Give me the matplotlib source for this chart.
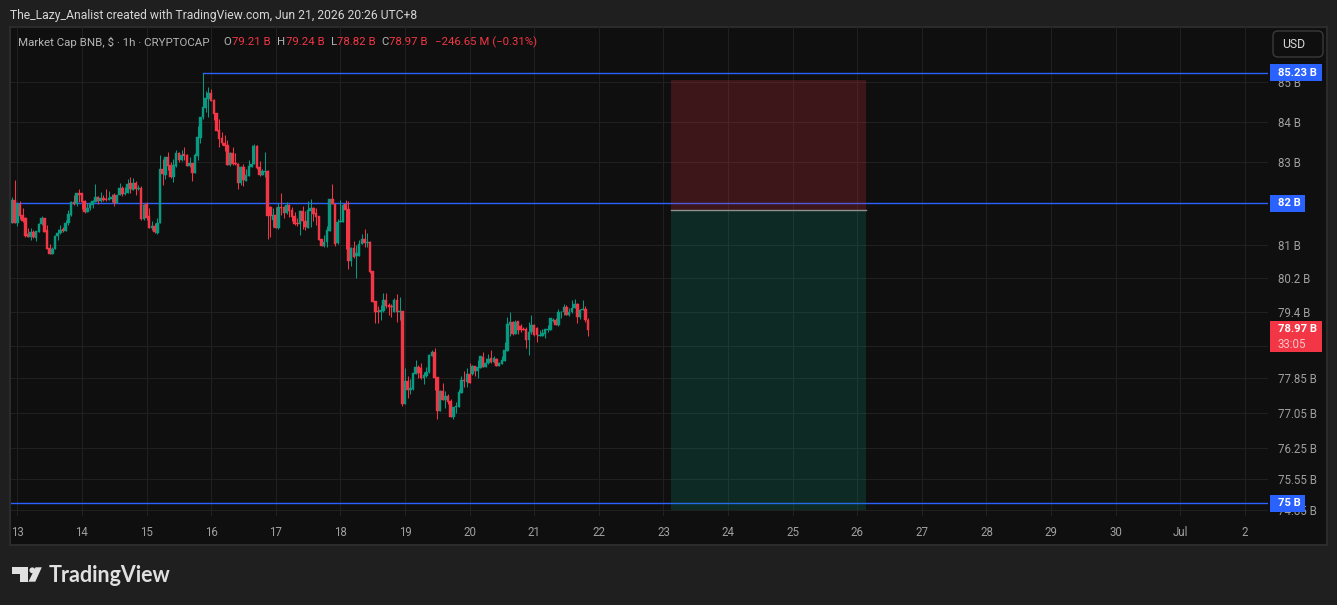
# plot.py
# hourly candles for BNB market cap with levels and a short position box

import matplotlib
matplotlib.use("Agg")
import matplotlib.pyplot as plt
import numpy as np
from matplotlib.patches import Circle, FancyBboxPatch, Polygon, Rectangle
from matplotlib.ticker import NullLocator

plt.rcParams["font.family"] = ["Roboto", "DejaVu Sans"]

# candle values, in billions of USD, one per hour
first_hour = -3  # hours from Jun 13 00:00
opens = [
    81.51, 81.51, 82.08, 81.51, 81.97, 81.71, 81.65, 81.25, 81.19, 81.30,
    81.16, 81.30, 81.49, 81.65, 81.35, 80.91, 80.77, 80.89, 81.20, 81.27,
    81.38, 81.32, 81.51, 81.71, 82.03, 81.98, 82.25, 82.24, 82.05, 81.78,
    81.89, 81.96, 82.04, 82.15, 82.05, 82.12, 82.10, 82.09, 82.11, 82.20,
    82.00, 82.21, 82.37, 82.23, 82.26, 82.49, 82.32, 82.49, 82.34, 82.37,
    81.61, 81.98, 81.69, 81.41, 81.45, 81.27, 81.51, 82.84, 82.69, 83.14,
    82.93, 82.64, 82.92, 83.24, 83.06, 83.20, 83.18, 82.91, 82.98, 82.75,
    83.17, 83.61, 84.12, 84.36, 84.58, 84.73, 84.55, 84.22, 83.81, 83.60,
    83.48, 83.43, 82.94, 83.24, 82.98, 82.96, 82.50, 82.89, 82.55, 82.67,
    82.90, 82.97, 83.41, 82.88, 82.69, 82.77, 82.79, 81.92, 81.59, 81.71,
    81.41, 81.91, 81.90, 81.77, 81.96, 81.84, 81.69, 81.51, 81.49, 81.81,
    81.57, 81.41, 81.82, 81.88, 81.77, 81.69, 81.13, 80.97, 81.05, 81.33,
    82.10, 81.99, 81.03, 81.54, 81.55, 81.97, 81.86, 80.61, 80.92, 80.72,
    80.73, 81.01, 81.13, 81.03, 81.06, 80.37, 79.65, 79.41, 79.40, 79.42,
    79.67, 79.55, 79.54, 79.39, 79.67, 79.40, 79.41, 77.26, 77.78, 77.57,
    77.59, 77.95, 78.11, 78.08, 77.85, 77.90, 77.99, 78.37, 78.45, 77.87,
    77.08, 77.55, 77.35, 77.43, 77.32, 76.96, 77.17, 77.19, 77.51, 77.80,
    77.75, 77.94, 77.94, 78.13, 78.00, 78.09, 78.33, 78.10, 78.19, 78.32,
    78.22, 78.30, 78.13, 78.18, 78.25, 78.48, 79.08, 79.15, 78.87, 79.17,
    79.06, 78.98, 78.98, 78.73, 78.91, 79.08, 79.02, 78.83, 78.83, 78.88,
    78.96, 78.96, 79.18, 79.20, 79.08, 79.38, 79.38, 79.51, 79.31, 79.39,
    79.48, 79.58, 79.27, 79.44, 79.46, 79.21,
]
highs = [
    81.67, 82.15, 82.57, 82.02, 82.06, 81.89, 81.67, 81.41, 81.39, 81.35,
    81.32, 81.53, 81.69, 81.65, 81.47, 81.01, 80.94, 81.23, 81.38, 81.47,
    81.43, 81.59, 81.84, 82.06, 82.20, 82.25, 82.34, 82.24, 82.08, 82.00,
    82.04, 82.09, 82.47, 82.18, 82.27, 82.20, 82.34, 82.30, 82.22, 82.24,
    82.21, 82.49, 82.42, 82.40, 82.59, 82.63, 82.62, 82.54, 82.44, 82.43,
    81.98, 82.04, 81.89, 81.56, 81.51, 81.63, 83.19, 83.09, 83.14, 83.27,
    83.01, 83.09, 83.31, 83.25, 83.31, 83.38, 83.21, 83.14, 82.98, 83.23,
    83.91, 84.13, 85.23, 84.78, 84.87, 84.83, 84.57, 84.22, 84.08, 83.76,
    83.68, 83.56, 83.26, 83.39, 83.24, 82.98, 82.91, 82.96, 82.85, 83.06,
    83.44, 83.46, 83.42, 83.04, 82.83, 83.27, 82.81, 81.94, 81.89, 81.90,
    82.00, 82.25, 81.94, 82.03, 81.98, 81.92, 81.78, 81.63, 81.84, 81.93,
    81.82, 82.06, 82.10, 81.90, 81.88, 81.69, 81.13, 81.24, 81.45, 82.10,
    82.47, 81.99, 81.61, 82.08, 81.99, 82.09, 82.05, 80.94, 81.09, 80.99,
    81.11, 81.25, 81.37, 81.28, 81.08, 80.37, 79.65, 79.53, 79.55, 79.83,
    79.83, 79.61, 79.59, 79.72, 79.81, 79.74, 79.41, 78.08, 77.89, 77.82,
    77.96, 78.27, 78.15, 78.19, 77.99, 78.10, 78.40, 78.50, 78.54, 77.88,
    77.57, 77.73, 77.55, 77.48, 77.37, 77.19, 77.30, 77.60, 77.89, 78.01,
    78.07, 78.19, 78.15, 78.13, 78.27, 78.36, 78.46, 78.31, 78.41, 78.50,
    78.36, 78.32, 78.23, 78.35, 78.69, 79.27, 79.39, 79.18, 79.20, 79.17,
    79.12, 79.04, 79.03, 79.16, 79.31, 79.10, 79.04, 78.96, 79.00, 78.99,
    79.08, 79.26, 79.26, 79.26, 79.46, 79.42, 79.58, 79.56, 79.48, 79.67,
    79.70, 79.61, 79.46, 79.67, 79.54, 79.24,
]
lows = [
    81.51, 81.51, 81.51, 81.45, 81.61, 81.55, 81.19, 81.19, 81.11, 81.15,
    81.09, 81.30, 81.47, 81.30, 80.89, 80.77, 80.77, 80.89, 81.11, 81.25,
    81.29, 81.32, 81.48, 81.70, 81.96, 81.93, 82.04, 81.86, 81.76, 81.78,
    81.84, 81.89, 82.04, 81.99, 82.04, 82.06, 82.05, 82.08, 82.04, 81.93,
    82.00, 82.21, 82.18, 82.21, 82.24, 82.26, 82.32, 82.20, 82.32, 81.59,
    81.60, 81.60, 81.39, 81.35, 81.27, 81.25, 81.51, 82.45, 82.59, 82.81,
    82.62, 82.53, 82.90, 83.02, 83.04, 83.06, 82.91, 82.90, 82.55, 82.75,
    83.06, 83.49, 84.07, 84.26, 84.12, 84.52, 84.06, 83.78, 83.39, 83.44,
    83.29, 82.94, 82.91, 82.94, 82.93, 82.35, 82.45, 82.42, 82.55, 82.67,
    82.90, 82.97, 82.85, 82.67, 82.69, 82.65, 81.13, 81.17, 81.43, 81.41,
    81.37, 81.71, 81.65, 81.75, 81.67, 81.57, 81.47, 81.45, 81.24, 81.37,
    81.35, 81.41, 81.43, 81.57, 81.48, 81.10, 80.97, 80.95, 80.95, 81.33,
    81.98, 80.97, 81.01, 81.54, 81.54, 80.89, 80.41, 80.49, 80.67, 80.20,
    80.73, 81.01, 80.95, 80.95, 80.32, 79.62, 79.14, 79.14, 79.20, 79.40,
    79.48, 79.32, 79.28, 79.39, 79.16, 79.20, 77.21, 77.26, 77.38, 77.49,
    77.57, 77.94, 77.86, 77.82, 77.71, 77.88, 77.97, 78.37, 77.57, 76.90,
    77.08, 77.35, 77.15, 77.26, 76.95, 76.91, 77.04, 77.19, 77.51, 77.63,
    77.65, 77.74, 77.91, 77.89, 77.85, 78.09, 78.10, 78.10, 78.17, 78.20,
    78.20, 78.13, 78.13, 78.18, 78.25, 78.48, 78.82, 78.85, 78.87, 78.88,
    78.92, 78.96, 78.54, 78.39, 78.88, 78.82, 78.69, 78.83, 78.82, 78.78,
    78.92, 78.96, 79.16, 79.08, 79.07, 79.26, 79.31, 79.31, 79.29, 79.37,
    79.48, 79.14, 79.22, 79.44, 79.15, 78.82,
]
closes = [
    81.67, 82.08, 81.51, 81.98, 81.70, 81.58, 81.21, 81.19, 81.30, 81.17,
    81.32, 81.49, 81.65, 81.31, 80.90, 80.77, 80.89, 81.21, 81.28, 81.35,
    81.33, 81.51, 81.74, 82.03, 81.98, 82.25, 82.21, 82.03, 81.79, 81.89,
    81.99, 82.05, 82.15, 82.05, 82.13, 82.09, 82.08, 82.13, 82.14, 82.00,
    82.21, 82.36, 82.22, 82.26, 82.46, 82.34, 82.50, 82.34, 82.37, 81.61,
    81.96, 81.63, 81.41, 81.45, 81.29, 81.51, 82.84, 82.71, 83.14, 82.92,
    82.64, 82.93, 83.24, 83.06, 83.19, 83.17, 82.92, 82.99, 82.75, 83.18,
    83.62, 84.13, 84.38, 84.60, 84.72, 84.53, 84.20, 83.79, 83.59, 83.47,
    83.41, 82.94, 83.24, 82.95, 82.95, 82.50, 82.90, 82.57, 82.68, 82.91,
    82.97, 83.41, 82.86, 82.69, 82.79, 82.80, 81.70, 81.70, 81.71, 81.41,
    81.92, 81.88, 81.77, 81.96, 81.82, 81.66, 81.49, 81.49, 81.81, 81.56,
    81.43, 81.84, 81.88, 81.75, 81.67, 81.11, 80.97, 81.06, 81.35, 82.10,
    81.98, 81.01, 81.54, 81.56, 81.96, 81.84, 80.61, 80.92, 80.69, 80.80,
    81.01, 81.13, 81.03, 81.07, 80.33, 79.63, 79.40, 79.40, 79.44, 79.67,
    79.53, 79.51, 79.50, 79.67, 79.39, 79.41, 77.26, 77.78, 77.57, 77.61,
    77.96, 78.11, 77.96, 77.85, 77.91, 77.99, 78.39, 78.45, 77.85, 77.08,
    77.54, 77.35, 77.43, 77.29, 76.96, 77.19, 77.20, 77.53, 77.80, 77.78,
    77.94, 77.74, 78.13, 78.00, 78.10, 78.35, 78.11, 78.20, 78.30, 78.22,
    78.32, 78.13, 78.19, 78.27, 78.50, 79.10, 79.15, 78.87, 79.16, 78.96,
    78.96, 78.96, 78.73, 78.92, 79.08, 78.84, 78.84, 78.85, 78.90, 78.98,
    78.98, 79.25, 79.20, 79.08, 79.38, 79.39, 79.51, 79.31, 79.40, 79.49,
    79.58, 79.28, 79.45, 79.47, 79.20, 78.97,
]

# axis ticks
price_ticks = [85, 84, 83, 82, 81, 80.2, 79.4, 78.6, 77.85, 77.05, 76.25, 75.55, 74.85]
price_labels = ["85 B", "84 B", "83 B", "82 B", "81 B", "80.2 B", "79.4 B", "78.6 B",
                "77.85 B", "77.05 B", "76.25 B", "75.55 B", "74.85 B"]
day_labels = ["13", "14", "15", "16", "17", "18", "19", "20", "21", "22", "23", "24",
              "25", "26", "27", "28", "29", "30", "Jul", "2"]

# horizontal levels and the short position box
level_top = 85.23
level_mid = 82
level_low = 75
pos_stop = 85.06
pos_entry = 81.83
pos_target = 74.85
pos_start = 243
pos_end = 315.3

UP = "#089981"
DOWN = "#f23645"
BLUE = "#2962ff"
GRID = "#202020"
PANE = "#0f0f0f"
OUTER = "#1f1f1f"
TICK = "#a0a0a0"

W, H = 1337, 605
fig = plt.figure(figsize=(W / 100, H / 100), dpi=100, facecolor=OUTER)


def pixel_axes(z):
    a = fig.add_axes([0, 0, 1, 1], zorder=z)
    a.set_xlim(0, W)
    a.set_ylim(H, 0)
    a.axis("off")
    return a


back = pixel_axes(0)
top = pixel_axes(5)

# chart frame
back.add_patch(Rectangle((9.5, 26.5), 1317, 518, fc=PANE, ec="#2b2b2b", lw=1.5))

# price pane
left, right, upper, lower = 10.5, 1268, 27, 516
ax = fig.add_axes([left / W, (H - lower) / H, (right - left) / W, (lower - upper) / H], zorder=2)
ax.patch.set_alpha(0)
for s in ax.spines.values():
    s.set_visible(False)

ax.set_yscale("log")
ax.set_ylim(74.72, 86.41)
ax.set_xlim(-2.53, 464.6)
ax.yaxis.set_minor_locator(NullLocator())
ax.yaxis.tick_right()
ax.set_yticks(price_ticks)
ax.set_yticklabels(price_labels)
ax.set_xticks(np.arange(len(day_labels)) * 24)
ax.set_xticklabels(day_labels)
ax.tick_params(axis="both", length=0, labelcolor=TICK, labelsize=8.3)
ax.tick_params(axis="y", pad=7.5)
ax.tick_params(axis="x", pad=7)
ax.grid(True, color=GRID, lw=0.75)
ax.set_axisbelow(True)

hours = np.arange(len(opens)) + first_hour
o = np.array(opens)
c = np.array(closes)
colors = [UP if b >= a else DOWN for a, b in zip(opens, closes)]

# levels run under the position box
x_end = ax.get_xlim()[1]
ax.plot([hours[np.argmax(highs)], x_end], [level_top, level_top], color=BLUE, lw=1, zorder=2)
ax.plot([ax.get_xlim()[0], x_end], [level_mid, level_mid], color=BLUE, lw=1, zorder=2)
ax.plot([ax.get_xlim()[0], x_end], [level_low, level_low], color=BLUE, lw=1, zorder=2)

ax.fill_between([pos_start, pos_end], pos_entry, pos_stop, color=DOWN, alpha=0.2, lw=0, zorder=3)
ax.fill_between([pos_start, pos_end], pos_target, pos_entry, color=UP, alpha=0.2, lw=0, zorder=3)
ax.plot([pos_start, pos_end], [pos_entry, pos_entry], color="#8f8f8f", lw=1, zorder=3)

# candles
ax.vlines(hours, lows, highs, colors=colors, lw=0.75, zorder=4)
ax.bar(hours, np.abs(c - o), bottom=np.minimum(o, c), width=0.95, color=colors,
       edgecolor=colors, lw=0.3, zorder=5)

# header and legend
top.text(10, 15, "The_Lazy_Analist created with TradingView.com, Jun 21, 2026 20:26 UTC+8",
         color="#d6d6d6", fontsize=8.72, va="center")
legend_y = 42
top.text(18, legend_y, "Market Cap BNB, $ · 1h · CRYPTOCAP", color="#b4b4b4", fontsize=8.25, va="center")
for x, s, col in [(223, "O", "#b4b4b4"), (232, "79.21 B", DOWN), (277, "H", "#b4b4b4"),
                  (285.5, "79.24 B", DOWN), (331, "L", "#b4b4b4"), (337, "78.82 B", DOWN),
                  (381, "C", "#b4b4b4"), (389, "78.97 B", DOWN),
                  (435, "−246.65 M (−0.31%)", DOWN)]:
    top.text(x, legend_y, s, color=col, fontsize=8.2, va="center")

# currency button
top.add_patch(FancyBboxPatch((1275, 33), 46, 22, boxstyle="round,pad=2,rounding_size=5",
                             fc=PANE, ec="#3a3a3a", lw=1))
top.text(1282, 44.5, "USD", color="#d6d6d6", fontsize=8.8, va="center")

# price tags on the right axis
tags = [(64, 17, 52, "85.23 B", BLUE), (195, 17, 35, "82 B", BLUE), (495, 17, 35, "75 B", BLUE)]
for y, h, w, s, col in tags:
    top.add_patch(Rectangle((1270, y), w, h, fc=col, ec="none"))
    top.text(1278, y + h / 2, s, color="white", fontsize=8.1, fontweight="bold", va="center")
top.add_patch(Rectangle((1270, 321), 52, 31, fc=DOWN, ec="none"))
top.text(1278, 329.5, "78.97 B", color="white", fontsize=8.1, fontweight="bold", va="center")
top.text(1278, 344, "33:05", color="#ffc4c9", fontsize=8.3, va="center")

# logo
logo = "#e0e0e0"
top.add_patch(Polygon([(12, 567.3), (28, 567.3), (28, 581.7), (20, 581.7), (20, 574), (12, 574)],
                      fc=logo, ec="none"))
top.add_patch(Circle((32.3, 570.3), 2.9, fc=logo, ec="none"))
top.add_patch(Polygon([(35.5, 567.3), (41.8, 567.3), (35.3, 581.7), (28.4, 581.7)], fc=logo, ec="none"))
top.text(48.5, 575, "TradingView", color=logo, fontsize=15.5, family="Lato", fontweight="bold", va="center")

fig.savefig("out.png", dpi=100, facecolor=OUTER)
